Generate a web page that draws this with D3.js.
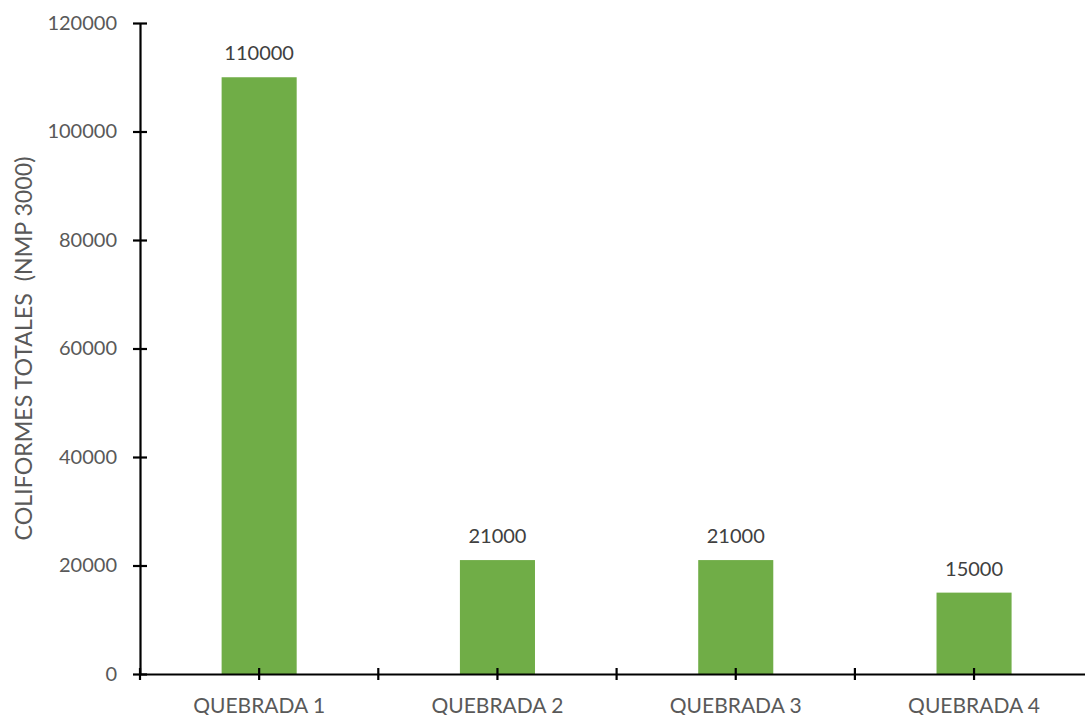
<!DOCTYPE html>
<html>
<head>
<meta charset="utf-8">
<script src="https://cdn.jsdelivr.net/npm/d3@7/dist/d3.min.js"></script>
<style>
  html, body { margin: 0; padding: 0; background: #fff; }
  svg { display: block; font-family: Lato, "Open Sans", sans-serif; }
</style>
</head>
<body>
<svg id="chart" width="1085" height="715"></svg>
<script>
// Coliformes totales por quebrada
const categories = ["QUEBRADA 1", "QUEBRADA 2", "QUEBRADA 3", "QUEBRADA 4"];
const values = [110000, 21000, 21000, 15000];
const yTicks = [0, 20000, 40000, 60000, 80000, 100000, 120000];
const yTitle = "COLIFORMES TOTALES\u00a0\u00a0(NMP 3000)";

const svg = d3.select("#chart");
const plotLeft = 140, plotTop = 23, plotBottom = 674, step = 238.3;

const x = d3.scaleBand()
  .domain(categories)
  .range([plotLeft, plotLeft + step * categories.length])
  .padding(0);

const y = d3.scaleLinear().domain([0, 120000]).range([plotBottom, plotTop]);

const barW = x.bandwidth() * 0.315;

// bars
svg.append("g").selectAll("rect")
  .data(categories)
  .join("rect")
  .attr("x", (d) => x(d) + x.bandwidth() / 2 - barW / 2)
  .attr("y", (d, i) => y(values[i]))
  .attr("width", barW)
  .attr("height", (d, i) => y(0) - y(values[i]))
  .attr("fill", "#70AD47");

// value labels
svg.append("g").selectAll("text")
  .data(categories)
  .join("text")
  .attr("x", (d) => x(d) + x.bandwidth() / 2)
  .attr("y", (d, i) => y(values[i]) - 17)
  .attr("text-anchor", "middle")
  .attr("font-size", 20)
  .attr("fill", "#404040")
  .text((d, i) => values[i]);

// y axis
const yAxis = svg.append("g")
  .attr("transform", `translate(${plotLeft},0)`)
  .call(d3.axisLeft(y).tickValues(yTicks).tickSize(7).tickSizeOuter(0).tickFormat(d3.format("d")));
yAxis.select(".domain").attr("stroke", "#000").attr("stroke-width", 2.2);
yAxis.selectAll(".tick line").attr("x1", -7).attr("x2", 7).attr("stroke", "#000").attr("stroke-width", 2.2);
yAxis.selectAll(".tick text")
  .attr("x", -23)
  .attr("font-size", 20)
  .attr("font-family", "Lato, 'Open Sans', sans-serif")
  .attr("fill", "#595959");

// x axis: ticks at band edges and at band centres
const xAxis = svg.append("g")
  .attr("transform", `translate(0,${plotBottom})`)
  .call(d3.axisBottom(x).tickSize(0).tickSizeOuter(0));
xAxis.select(".domain").attr("stroke", "#000").attr("stroke-width", 2.2);
xAxis.selectAll(".tick text")
  .attr("y", 24)
  .attr("dy", "0.71em")
  .attr("font-size", 21)
  .attr("font-family", "Lato, 'Open Sans', sans-serif")
  .attr("fill", "#595959");

const edges = categories.map((d) => x(d)).concat([x.range()[1]]);
const centres = categories.map((d) => x(d) + x.bandwidth() / 2);
xAxis.append("g").selectAll("line")
  .data(edges.concat(centres))
  .join("line")
  .attr("x1", (d) => d).attr("x2", (d) => d)
  .attr("y1", -6).attr("y2", 6)
  .attr("stroke", "#000").attr("stroke-width", 2.2);

// y axis title
svg.append("text")
  .attr("transform", `translate(32,${(plotTop + plotBottom) / 2}) rotate(-90)`)
  .attr("text-anchor", "middle")
  .attr("font-size", 23.2)
  .attr("fill", "#595959")
  .text(yTitle);
</script>
</body>
</html>
